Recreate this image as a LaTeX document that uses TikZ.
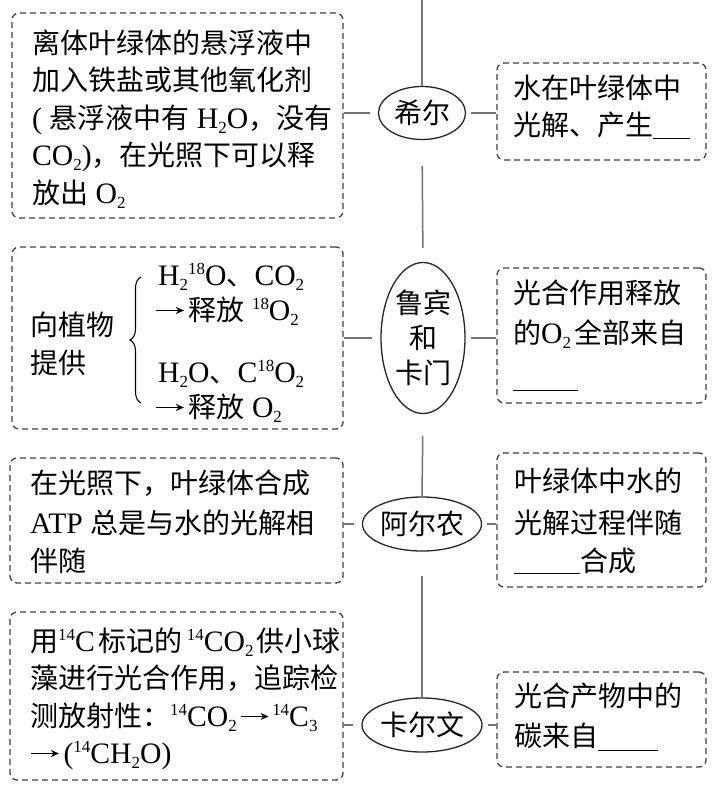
\documentclass[tikz,border=0pt]{standalone}
\usepackage{fontspec}
\setmainfont{Noto Sans CJK SC}
\newfontfamily\lat[Scale=1.06]{Liberation Serif}
\usetikzlibrary{shapes.geometric,decorations.pathreplacing,arrows.meta}
\newcommand\ch[1]{{\lat #1}}
\newcommand\sbs[1]{\raisebox{-5pt}{\fontsize{16}{16}\selectfont #1}}
\newcommand\sps[1]{\raisebox{11pt}{\fontsize{16}{16}\selectfont #1}}
\newcommand\blank[2][-4pt]{\rule[#1]{#2}{1.3pt}}
\newcommand\arr{\tikz[x=1pt,y=1pt,baseline=0pt]\draw[line width=1.4pt,-{Stealth[length=8pt,width=7pt]}] (0,9.5) -- (28,9.5);}
\tikzset{
  dbox/.style={rectangle, draw=black!75, line width=1.3pt, dash pattern=on 6pt off 4pt, rounded corners=7pt, inner sep=0pt},
  oval/.style={ellipse, draw=black!85, line width=1.3pt, inner sep=0pt, align=center, font=\fontsize{28}{35}\selectfont},
  txt/.style={anchor=base west, inner sep=0pt, font=\fontsize{28}{34}\selectfont},
  link/.style={draw=black!55, line width=1.5pt},
}
\newcommand\mytl[4]{\node[txt] (#1) at (#2,#3) {#4};}
\begin{document}
\begin{tikzpicture}[x=1pt,y=-1pt]
\useasboundingbox[fill=white] (0,0) rectangle (712,788);
% boxes
\node[dbox, minimum width=331pt, minimum height=205pt] (L1) at (177.5,115.5) {};
\node[dbox, minimum width=331pt, minimum height=182pt] (L2) at (177.5,338) {};
\node[dbox, minimum width=333pt, minimum height=125pt] (L3) at (176.5,520.5) {};
\node[dbox, minimum width=333pt, minimum height=168pt] (L4) at (176.5,696) {};
\node[dbox, minimum width=209pt, minimum height=97pt] (R1) at (601.5,111.5) {};
\node[dbox, minimum width=209pt, minimum height=135pt] (R2) at (601.5,335.5) {};
\node[dbox, minimum width=209pt, minimum height=134pt] (R3) at (601.5,520) {};
\node[dbox, minimum width=209pt, minimum height=95pt] (R4) at (601.5,719.5) {};
% ellipses
\node[oval, minimum width=87pt, minimum height=53pt] (E1) at (422,113) {希尔};
\node[oval, minimum width=84pt, minimum height=151pt] (E2) at (423,338) {鲁宾\\和\\卡门};
\node[oval, minimum width=119pt, minimum height=54pt] (E3) at (422,524) {阿尔农};
\node[oval, minimum width=120pt, minimum height=54pt] (E4) at (422,725) {卡尔文};
% spine
\coordinate (top) at (422,0);
\draw[link] (top) -- (E1.north);
\draw[link, shorten <=26pt, shorten >=14pt] (E1.south) -- (E2.north);
\draw[link, shorten <=22pt] (E2.south) -- (E3.north);
\draw[link, shorten <=24pt] (E3.south) -- (E4.north);
% side links
\draw[link, shorten >=8pt] (L1.east |- E1.west) -- (E1.west);
\draw[link, shorten <=5pt] (E1.east) -- (R1.west |- E1.east);
\draw[link, shorten >=8pt] (L2.east |- E2.west) -- (E2.west);
\draw[link, shorten <=5pt] (E2.east) -- (R2.west |- E2.east);
\draw[link, shorten >=8pt] (L3.east |- E3.west) -- (E3.west);
\draw[link, shorten <=5pt] (E3.east) -- (R3.west |- E3.east);
\draw[link, shorten >=8pt] (L4.east |- E4.west) -- (E4.west);
\draw[link, shorten <=5pt] (E4.east) -- (R4.west |- E4.east);
% L1 text
\mytl{a1}{32}{53}{离体叶绿体的悬浮液中}
\mytl{a2}{32}{90}{加入铁盐或其他氧化剂}
\mytl{a3}{32}{128}{\ch{( }悬浮液中有\ch{ H\sbs{2}O}，没有}
\mytl{a4}{32}{165}{\ch{CO\sbs{2})}，在光照下可以释}
\mytl{a5}{32}{203}{放出\ch{ O\sbs{2}}}
% L2 text
\mytl{b1}{30}{335}{向植物}
\mytl{b2}{30}{373}{提供}
\mytl{b3}{158}{285}{\ch{H\sbs{2}\sps{18}O}、\ch{CO\sbs{2}}}
\mytl{b4}{155}{320}{\arr\hspace{4pt}释放\ch{ \sps{18}O\sbs{2}}}
\mytl{b5}{158}{382}{\ch{H\sbs{2}O}、\ch{C\sps{18}O\sbs{2}}}
\mytl{b6}{155}{417}{\arr\hspace{4pt}释放\ch{ O\sbs{2}}}
\coordinate (brb) at (141,403);
\coordinate (brt) at (141,277);
\draw[decorate, decoration={brace, amplitude=11pt}, line width=1.1pt] (brb) -- (brt);
% L3 text
\mytl{c1}{30}{493}{在光照下，叶绿体合成}
\mytl{c2}{30}{533}{\ch{ATP }总是与水的光解相}
\mytl{c3}{30}{571}{伴随}
% L4 text
\mytl{d1}{30}{651}{用\ch{\sps{14}C}\hspace{4pt}标记的\hspace{4pt}\ch{\sps{14}CO\sbs{2}}\hspace{3pt}供小球}
\mytl{d2}{30}{688}{藻进行光合作用，追踪检}
\mytl{d3}{30}{726}{测放射性：\ch{\sps{14}CO\sbs{2}}\hspace{3pt}\arr\hspace{3pt}\ch{\sps{14}C\sbs{3}}}
\mytl{d4}{30}{763}{\arr\hspace{4pt}\ch{(\sps{14}CH\sbs{2}O)}}
% R text
\mytl{r1}{513}{98}{水在叶绿体中}
\mytl{r2}{513}{135}{光解、产生\blank{37pt}}
\mytl{r3}{513}{303}{光合作用释放}
\mytl{r4}{513}{343}{的\ch{O\sbs{2}}\hspace{3pt}全部来自}
\mytl{r5}{513}{391}{\blank[0pt]{65pt}}
\mytl{r6}{514}{491}{叶绿体中水的}
\mytl{r7}{514}{533}{光解过程伴随}
\mytl{r8}{514}{571}{\blank[-3pt]{66pt}合成}
\mytl{r9}{514}{706}{光合产物中的}
\mytl{r10}{514}{746}{碳来自\blank[-5pt]{60pt}}
\end{tikzpicture}
\end{document}
